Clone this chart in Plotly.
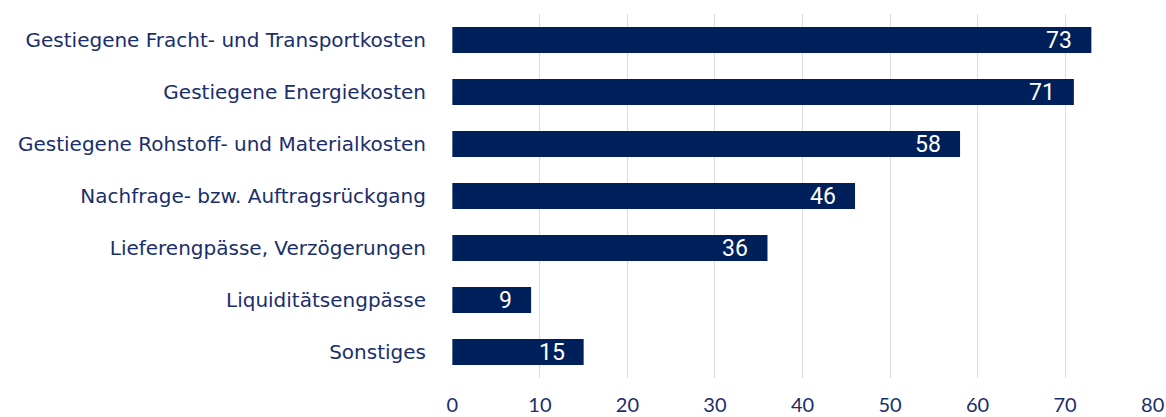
import plotly.graph_objects as go

categories = [
    "Gestiegene Fracht- und Transportkosten",
    "Gestiegene Energiekosten",
    "Gestiegene Rohstoff- und Materialkosten",
    "Nachfrage- bzw. Auftragsrückgang",
    "Lieferengpässe, Verzögerungen",
    "Liquiditätsengpässe",
    "Sonstiges",
]
values = [73, 71, 58, 46, 36, 9, 15]
tick_vals = [0, 10, 20, 30, 40, 50, 60, 70, 80]

NAVY = "#00205B"
TEXT = "#1a2e6c"

fig = go.Figure()
fig.add_trace(go.Bar(
    x=values, y=categories, orientation="h",
    marker=dict(color=NAVY, line=dict(width=0)),
    hoverinfo="x+y",
))

for c, v in zip(categories, values):
    fig.add_annotation(
        x=v, y=c, text=str(v), showarrow=False,
        xanchor="right", xshift=-17, yshift=0,
        font=dict(family="Roboto", size=23, color="white"),
    )

fig.update_layout(
    width=1166, height=417,
    margin=dict(l=452, r=13, t=14, b=39),
    plot_bgcolor="white", paper_bgcolor="white",
    bargap=0.5,
    showlegend=False,
    font=dict(family="Lato", color=TEXT),
)
fig.update_xaxes(
    range=[-0.04, 80.04], tickvals=tick_vals,
    showgrid=True, gridcolor="#dcdcdc", gridwidth=1,
    zeroline=False, showline=False, automargin=False,
    tickfont=dict(family="Lato", size=20, color=TEXT),
    ticks="", ticklabelstandoff=13,
)
fig.update_yaxes(
    autorange="reversed", showgrid=False, zeroline=False, showline=False,
    automargin=False,
    tickfont=dict(family="DejaVu Sans", size=20, color=TEXT),
    ticks="", ticklabelstandoff=25,
)

fig.write_html(
    "out.html",
    config={"displayModeBar": False},
    post_script="document.body.style.margin='0';document.body.style.overflow='hidden';",
)
